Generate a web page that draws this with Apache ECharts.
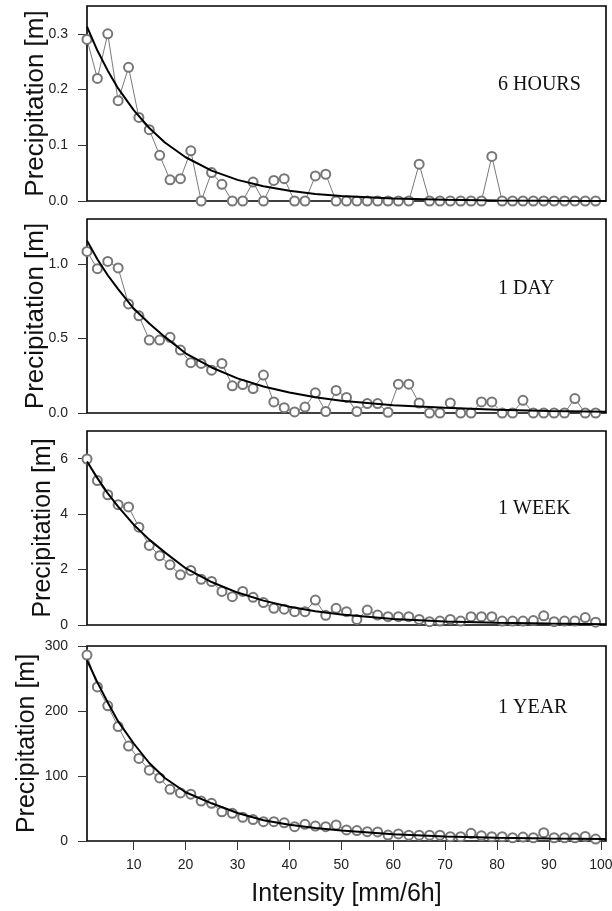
<!DOCTYPE html>
<html>
<head>
<meta charset="utf-8">
<script src="https://cdn.jsdelivr.net/npm/echarts@6/dist/echarts.min.js"></script>
<style>html,body{margin:0;padding:0;background:#fff}#c{width:612px;height:911px}</style>
</head>
<body>
<div id="c"></div>
<script>
// Intensity values (mm/6h) of the observed points
const intensity = [1,3,5,7,9,11,13,15,17,19,21,23,25,27,29,31,33,35,37,39,41,43,45,47,49,51,53,55,57,59,61,63,65,67,69,71,73,75,77,79,81,83,85,87,89,91,93,95,97,99];

// Observed precipitation [m]
const hours6 = [0.29,0.22,0.30,0.18,0.24,0.15,0.128,0.082,0.038,0.04,0.09,0,0.051,0.03,0,0,0.034,0,0.037,0.04,0,0,0.045,0.048,0,0,0,0,0,0,0,0,0.066,0,0,0,0,0,0,0.08,0,0,0,0,0,0,0,0,0,0];
const day1 = [1.083,0.967,1.016,0.972,0.731,0.651,0.489,0.489,0.507,0.422,0.337,0.332,0.287,0.332,0.182,0.191,0.164,0.254,0.074,0.036,0.007,0.04,0.135,0.01,0.151,0.104,0.01,0.063,0.063,0.005,0.193,0.193,0.067,0,0,0.067,0,0,0.074,0.074,0,0,0.085,0,0,0,0,0.097,0,0];
const week1 = [5.99,5.21,4.70,4.34,4.26,3.53,2.87,2.50,2.17,1.81,1.97,1.65,1.57,1.21,1.02,1.21,1.00,0.81,0.60,0.57,0.48,0.48,0.90,0.35,0.60,0.48,0.20,0.54,0.36,0.30,0.30,0.30,0.20,0.12,0.14,0.20,0.14,0.30,0.30,0.30,0.14,0.14,0.14,0.16,0.33,0.12,0.14,0.14,0.27,0.10];
const year1 = [286,237,208,176,146,127,109,97,79.5,74,72,61.5,58,45,42.6,36.4,33,29.7,29.7,28,22,25.6,23,22,24.6,17,16,14.4,14,9.2,10.8,9,9,9,9,6.7,6.7,11.8,8,6.7,6.7,5,6,5,12.8,5,5,5,7,3];

// Fitted curve, read at these intensities
const fitX = [1,3,5,7,10,13,16,20,25,30,35,40,45,50,60,70,80,90,101];
const fit6h = [0.313,0.27,0.234,0.202,0.163,0.131,0.105,0.0785,0.0546,0.0379,0.0264,0.0183,0.0127,0.0088,0.0043,0.0021,0.001,0.0005,0.0002];
const fit1d = [1.155,1.03,0.923,0.83,0.70,0.60,0.51,0.40,0.305,0.232,0.178,0.138,0.105,0.082,0.052,0.035,0.022,0.014,0.009];
const fit1w = [5.9,5.3,4.75,4.27,3.62,3.08,2.62,2.05,1.55,1.17,0.88,0.66,0.50,0.38,0.22,0.13,0.08,0.05,0.03];
const fit1y = [278,244,213,184,150,120,97,75,58,43,32,25,20,16,10.5,7,5,3.8,3];

// Axis settings
const panelLabels = ['6 HOURS','1 DAY','1 WEEK','1 YEAR'];
const yMax = [0.35, 1.3, 7, 300];
const yTicks = [[0,0.1,0.2,0.3],[0,0.5,1.0],[0,2,4,6],[0,100,200,300]];
const yDecimals = [1,1,0,0];
const xTicks = [10,20,30,40,50,60,70,80,90,100];
const yName = 'Precipitation [m]';
const xName = 'Intensity [mm/6h]';

const obs = [hours6, day1, week1, year1];
const fits = [fit6h, fit1d, fit1w, fit1y];
const tops = [6, 219, 431, 646];
const heights = [195, 194, 194, 195];
const labelTops = [75, 279, 499, 698];
const nameGaps = [38, 38, 31, 47];
const nameSizes = [26, 26, 25, 25];

const chart = echarts.init(document.getElementById('c'), null, {renderer:'canvas'});
const grids = [], xAxes = [], yAxes = [], series = [], titles = [];
for (let i = 0; i < 4; i++) {
  const last = i === 3;
  grids.push({left:87, width:519, top:tops[i], height:heights[i], show:true, borderColor:'#000', borderWidth:1.6, backgroundColor:'transparent', containLabel:false, outerBoundsMode:'none'});
  xAxes.push({
    type:'value', gridIndex:i, min:1, max:101,
    axisLine:{show:false}, splitLine:{show:false},
    axisTick:{show:last, length:9, inside:false, customValues:xTicks, lineStyle:{color:'#333', width:1}},
    axisLabel:{show:last, customValues:xTicks, margin:17, fontSize:14, color:'#222', fontFamily:'Liberation Sans, Arial, sans-serif'},
    name: last ? xName : '', nameLocation:'middle', nameGap:41, nameMoveOverlap:false,
    nameTextStyle:{fontSize:25, color:'#111', fontFamily:'Liberation Sans, Arial, sans-serif'}
  });
  const dec = yDecimals[i];
  yAxes.push({
    type:'value', gridIndex:i, min:0, max:yMax[i],
    axisLine:{show:false}, splitLine:{show:false},
    axisTick:{show:true, length:9, customValues:yTicks[i], lineStyle:{color:'#333', width:1}},
    axisLabel:{customValues:yTicks[i], margin:19, fontSize:14, color:'#222', fontFamily:'Liberation Sans, Arial, sans-serif',
      formatter:v => v.toFixed(dec)},
    name:yName, nameLocation:'middle', nameGap:nameGaps[i], nameRotate:90, nameMoveOverlap:false,
    nameTextStyle:{fontSize:nameSizes[i], color:'#111', fontFamily:'Liberation Sans, Arial, sans-serif'}
  });
  series.push({
    type:'line', xAxisIndex:i, yAxisIndex:i,
    data: intensity.map((x, j) => [x, obs[i][j]]),
    symbol:'emptyCircle', symbolSize:9, showAllSymbol:true, clip:false,
    lineStyle:{color:'#555', width:0.8},
    itemStyle:{color:'#777', borderColor:'#777', borderWidth:0.9},
    z:2, animation:false
  });
  series.push({
    type:'line', xAxisIndex:i, yAxisIndex:i,
    data: fitX.map((x, j) => [x, fits[i][j]]),
    symbol:'none', smooth:false,
    lineStyle:{color:'#000', width:2},
    z:5, animation:false
  });
  titles.push({text:panelLabels[i], left:498, top:labelTops[i], padding:0,
    textStyle:{fontFamily:'Liberation Serif, Times New Roman, serif', fontWeight:'normal', fontSize:20, color:'#111'}});
}
chart.setOption({animation:false, title:titles, grid:grids, xAxis:xAxes, yAxis:yAxes, series:series});
</script>
</body>
</html>
